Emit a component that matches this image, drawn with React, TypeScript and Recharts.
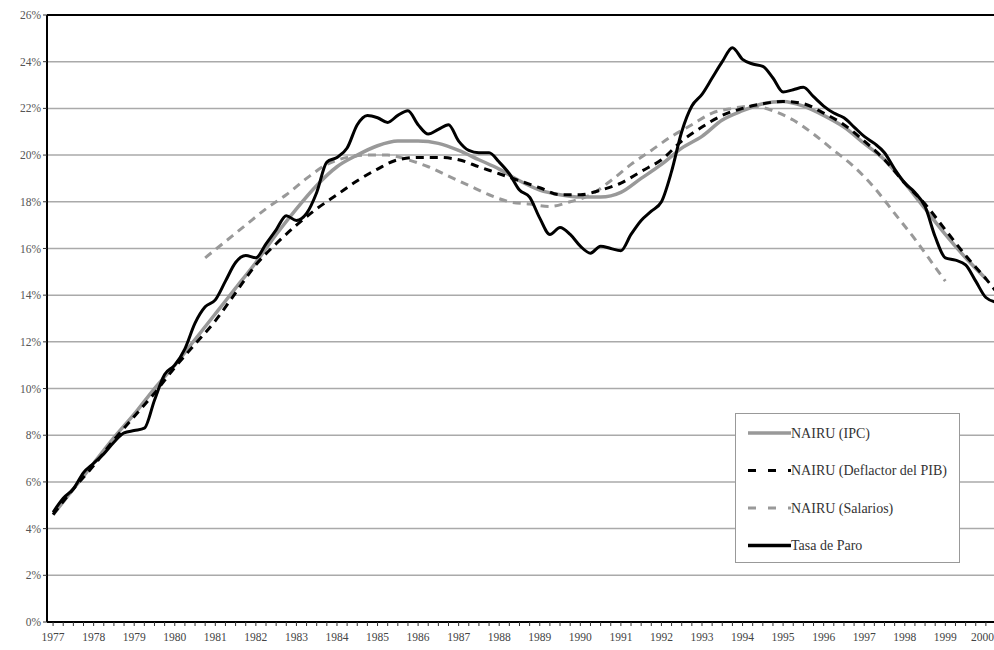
import {
  LineChart,
  Line,
  XAxis,
  YAxis,
  CartesianGrid,
  ReferenceLine,
} from 'recharts';

// Tasa de paro, trimestral desde 1977 T1
const tasaParo = [
  4.7, 5.3, 5.7, 6.4, 6.8, 7.2, 7.7, 8.1, 8.2, 8.3, 9.5, 10.6,
  11.0, 11.7, 12.8, 13.5, 13.8, 14.6, 15.4, 15.7, 15.6, 16.2, 16.8, 17.4,
  17.2, 17.5, 18.4, 19.7, 19.9, 20.3, 21.3, 21.7, 21.6, 21.4, 21.7, 21.9,
  21.3, 20.9, 21.1, 21.3, 20.6, 20.2, 20.1, 20.1, 19.7, 19.2, 18.5, 18.2,
  17.3, 16.6, 16.9, 16.6, 16.1, 15.8, 16.1, 16.0, 15.9, 16.6, 17.2, 17.6,
  18.0, 19.3, 21.0, 22.1, 22.6, 23.3, 24.0, 24.6, 24.1, 23.9, 23.8, 23.3,
  22.7, 22.8, 22.9, 22.5, 22.1, 21.8, 21.6, 21.2, 20.8, 20.5, 20.1, 19.4,
  18.8, 18.4, 17.8, 16.5, 15.6, 15.5, 15.3, 14.6, 13.9, 13.7,
];

// NAIRU semestral desde 1977
const nairuIPC = [
  4.6, 5.7, 6.8, 7.9, 8.9, 10.0, 11.0, 12.1, 13.2, 14.3, 15.4, 16.6,
  17.7, 18.7, 19.5, 20.0, 20.4, 20.6, 20.6, 20.5, 20.2, 19.8, 19.4, 18.9,
  18.5, 18.3, 18.2, 18.2, 18.4, 19.0, 19.6, 20.3, 20.8, 21.5, 21.9, 22.2,
  22.3, 22.1, 21.7, 21.2, 20.5, 19.8, 18.8, 17.7, 16.6, 15.6, 14.7,
];

const nairuDeflactor = [
  4.6, 5.7, 6.7, 7.8, 8.8, 9.8, 10.9, 11.9, 12.9, 14.1, 15.3, 16.2,
  17.0, 17.7, 18.3, 18.9, 19.4, 19.8, 19.9, 19.9, 19.8, 19.5, 19.2, 18.9,
  18.6, 18.3, 18.3, 18.5, 18.8, 19.3, 19.8, 20.6, 21.2, 21.7, 22.0, 22.2,
  22.3, 22.2, 21.8, 21.3, 20.6, 19.8, 18.8, 17.9, 16.8, 15.7, 14.7, 13.6,
];

const salariosYears = [
  1980.75, 1981.25, 1981.75, 1982.25, 1982.75, 1983.25, 1983.75, 1984.25,
  1984.75, 1985.25, 1985.75, 1986.25, 1986.75, 1987.25, 1987.75, 1988.25,
  1988.75, 1989.25, 1989.75, 1990.25, 1990.75, 1991.25, 1991.75, 1992.25,
  1992.75, 1993.25, 1993.75, 1994.25, 1994.75, 1995.25, 1995.75, 1996.25,
  1996.75, 1997.25, 1997.75, 1998.25, 1998.75, 1999.0,
];
const nairuSalarios = [
  15.6, 16.3, 17.0, 17.7, 18.3, 19.0, 19.6, 19.9, 20.0, 20.0, 19.8, 19.5,
  19.1, 18.7, 18.3, 18.0, 17.9, 17.8, 18.0, 18.3, 18.9, 19.6, 20.2, 20.8,
  21.3, 21.8, 22.0, 22.1, 21.9, 21.5, 20.9, 20.2, 19.5, 18.6, 17.5, 16.4,
  15.2, 14.6,
];

const yTicks = [0, 2, 4, 6, 8, 10, 12, 14, 16, 18, 20, 22, 24, 26];
const years = [
  1977, 1978, 1979, 1980, 1981, 1982, 1983, 1984, 1985, 1986, 1987, 1988,
  1989, 1990, 1991, 1992, 1993, 1994, 1995, 1996, 1997, 1998, 1999, 2000,
];

const tasaData = tasaParo.map((v, i) => ({ t: 1977 + i / 4, v }));
const ipcData = nairuIPC.map((v, i) => ({ t: 1977 + i / 2, v }));
const deflData = nairuDeflactor.map((v, i) => ({ t: 1977 + i / 2, v }));
const salData = nairuSalarios.map((v, i) => ({ t: salariosYears[i], v }));

// quarter tick marks, labels only on whole years
const xTicks: number[] = [];
years.forEach((y) => {
  [0, 0.25, 0.5, 0.75].forEach((q) => {
    if (y + q <= 2000.2) xTicks.push(y + q);
  });
});

const serif = 'Liberation Serif, Times New Roman, serif';

function YearTick(props: any) {
  const { x, y, payload } = props;
  const v = payload.value;
  if (!Number.isInteger(v)) return null;
  const last = v === 2000;
  return (
    <text
      x={last ? 994 : x}
      y={y + 13}
      textAnchor={last ? 'end' : 'middle'}
      style={{ fontFamily: serif, fontSize: 11.5 }}
      fill="#444"
    >
      {v}
    </text>
  );
}

function ChartLegend() {
  const rows = [
    { label: 'NAIRU (IPC)', color: '#999', dash: undefined, w: 3.5 },
    { label: 'NAIRU (Deflactor del PIB)', color: '#000', dash: '8 12', w: 3 },
    { label: 'NAIRU (Salarios)', color: '#999', dash: '8 12', w: 3 },
    { label: 'Tasa de Paro', color: '#000', dash: undefined, w: 3.5 },
  ];
  return (
    <div
      style={{
        position: 'absolute',
        left: 735,
        top: 413,
        width: 225,
        height: 150,
        border: '1px solid #999',
        background: '#fff',
        boxSizing: 'border-box',
      }}
    >
      <svg width={223} height={148} style={{ display: 'block' }}>
        {rows.map((r, i) => (
          <g key={r.label} transform={`translate(0, ${19 + i * 37.5})`}>
            <line
              x1={12}
              x2={55}
              y1={0}
              y2={0}
              stroke={r.color}
              strokeWidth={r.w}
              strokeDasharray={r.dash}
            />
            <text
              x={55}
              y={4.5}
              style={{ fontFamily: serif, fontSize: 14 }}
              fill="#333"
            >
              {r.label}
            </text>
          </g>
        ))}
      </svg>
    </div>
  );
}

export default function App() {
  return (
    <div style={{ position: 'absolute', left: 0, top: 0, width: 994, height: 650, background: '#fff' }}>
      <LineChart
        width={994}
        height={650}
        margin={{ top: 15, right: 0, bottom: 0, left: 0 }}
      >
        <CartesianGrid vertical={false} stroke="#aaa" strokeWidth={1.5} />
        <XAxis
          type="number"
          dataKey="t"
          domain={[1976.85, 2000.2]}
          allowDataOverflow
          ticks={xTicks}
          interval={0}
          height={28}
          stroke="#000"
          strokeWidth={2}
          tickSize={4}
          tick={<YearTick />}
          tickLine={{ stroke: '#333', strokeWidth: 1 }}
        />
        <YAxis
          type="number"
          domain={[0, 26]}
          ticks={yTicks}
          interval={0}
          width={47}
          tickFormatter={(v: number) => `${v}%`}
          stroke="#000"
          strokeWidth={2}
          tickSize={4}
          tick={{ fontFamily: serif, fontSize: 11.5, fill: '#555' }}
          tickLine={{ stroke: '#333', strokeWidth: 1 }}
        />
        <ReferenceLine y={26} stroke="#000" strokeWidth={2} />
        <Line
          data={salData}
          dataKey="v"
          name="NAIRU (Salarios)"
          type="monotone"
          stroke="#999"
          strokeWidth={3}
          strokeDasharray="8 6"
          dot={false}
          isAnimationActive={false}
        />
        <Line
          data={ipcData}
          dataKey="v"
          name="NAIRU (IPC)"
          type="monotone"
          stroke="#999"
          strokeWidth={3.5}
          dot={false}
          isAnimationActive={false}
        />
        <Line
          data={deflData}
          dataKey="v"
          name="NAIRU (Deflactor del PIB)"
          type="monotone"
          stroke="#000"
          strokeWidth={3}
          strokeDasharray="8 6"
          dot={false}
          isAnimationActive={false}
        />
        <Line
          data={tasaData}
          dataKey="v"
          name="Tasa de Paro"
          type="monotone"
          stroke="#000"
          strokeWidth={3}
          dot={false}
          isAnimationActive={false}
        />
      </LineChart>
      <ChartLegend />
    </div>
  );
}
